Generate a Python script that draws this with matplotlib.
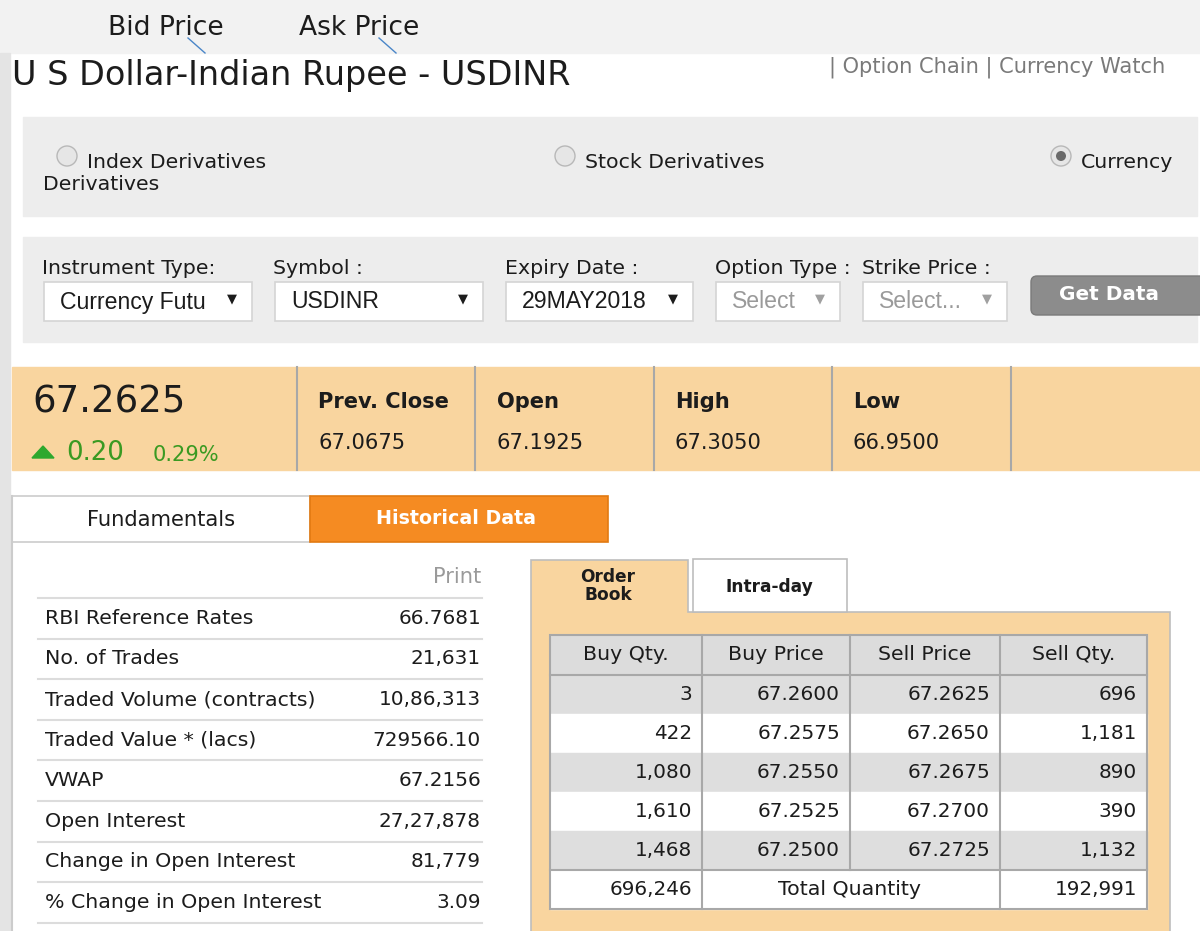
import matplotlib
matplotlib.use('Agg')
import matplotlib.pyplot as plt
from matplotlib.patches import Rectangle, Circle, FancyBboxPatch, Polygon

plt.rcParams['font.family'] = ['DejaVu Sans']

# ---- data ----
title = 'U S Dollar-Indian Rupee - USDINR'
callouts = ['Bid Price', 'Ask Price']
links = '| Option Chain | Currency Watch'
segments = ['Index Derivatives', 'Stock Derivatives', 'Currency']
filter_labels = ['Instrument Type:', 'Symbol :', 'Expiry Date :', 'Option Type :', 'Strike Price :']
filter_values = ['Currency Futu', 'USDINR', '29MAY2018', 'Select', 'Select...']
last_price = '67.2625'
change = '0.20'
pct_change = '0.29%'
quote_labels = ['Prev. Close', 'Open', 'High', 'Low']
quote_values = ['67.0675', '67.1925', '67.3050', '66.9500']
tabs = ['Fundamentals', 'Historical Data']
fund_labels = ['RBI Reference Rates', 'No. of Trades', 'Traded Volume (contracts)',
               'Traded Value * (lacs)', 'VWAP', 'Open Interest',
               'Change in Open Interest', '% Change in Open Interest']
fund_values = ['66.7681', '21,631', '10,86,313', '729566.10', '67.2156',
               '27,27,878', '81,779', '3.09']
book_tabs = ['Order\nBook', 'Intra-day']
book_cols = ['Buy Qty.', 'Buy Price', 'Sell Price', 'Sell Qty.']
buy_qty = ['3', '422', '1,080', '1,610', '1,468']
buy_price = ['67.2600', '67.2575', '67.2550', '67.2525', '67.2500']
sell_price = ['67.2625', '67.2650', '67.2675', '67.2700', '67.2725']
sell_qty = ['696', '1,181', '890', '390', '1,132']
total_buy = '696,246'
total_sell = '192,991'

# ---- colours ----
DARK = '#1c1c1c'
PANEL = '#ededed'
ORANGE_BG = '#f9d59f'
ORANGE = '#f58b22'
GREEN = '#3a9a22'
LINE = '#a8a8a8'


def pt(px):
    # pixel height -> points at dpi 100
    return px * 0.72


fig = plt.figure(figsize=(12, 9.31), dpi=100)
ax = fig.add_axes([0, 0, 1, 1])
ax.set_xlim(0, 1200)
ax.set_ylim(931, 0)
ax.axis('off')

# page background
ax.add_patch(Rectangle((0, 0), 1200, 53, color='#f2f2f2', zorder=0))
ax.add_patch(Rectangle((0, 53), 10, 878, color='#e4e4e4', zorder=0))

# callouts with leader lines
for i, txt in enumerate(callouts):
    x = [108, 299][i]
    ax.text(x, 28, txt, fontsize=pt(26.5), color=DARK, va='center', ha='left')
    ax.plot([x + 80, x + 97], [38, 53], color='#4a86c8', lw=1)

ax.text(12, 75, title, fontsize=pt(33.5), color=DARK, va='center', ha='left')
ax.text(1165, 67, links, fontsize=pt(21), color='#7a7a7a', va='center', ha='right')

# segment selector
ax.add_patch(Rectangle((23, 117), 1174, 99, color=PANEL))
for i, seg in enumerate(segments):
    cx = [67, 565, 1061][i]
    ax.add_patch(Circle((cx, 156), 10, facecolor='#e6e6e6', edgecolor='#b8b8b8', lw=1))
    if seg == 'Currency':
        ax.add_patch(Circle((cx, 156), 5, facecolor='#6a6a6a', edgecolor='none'))
    ax.text(cx + 20, 162, seg, fontsize=pt(20.5), color=DARK, va='center', ha='left')
ax.text(43, 185, 'Derivatives', fontsize=pt(20.5), color=DARK, va='center', ha='left')

# filter bar
ax.add_patch(Rectangle((23, 237), 1174, 105, color=PANEL))
label_x = [42, 273, 505, 715, 862]
boxes = [(44, 252), (275, 483), (506, 693), (716, 840), (863, 1007)]
for i, lab in enumerate(filter_labels):
    ax.text(label_x[i], 268, lab, fontsize=pt(20.5), color=DARK, va='center', ha='left')
    x0, x1 = boxes[i]
    ax.add_patch(Rectangle((x0, 282), x1 - x0, 39, facecolor='white', edgecolor='#d4d4d4', lw=1.2))
    grey = filter_values[i].startswith('Select')
    ax.text(x0 + 16, 302, filter_values[i], fontsize=pt(23), family='Liberation Sans',
            color='#9a9a9a' if grey else DARK, va='center', ha='left')
    ax.text(x1 - 20, 299, '\u25bc', fontsize=pt(13), color='#a0a0a0' if grey else DARK,
            va='center', ha='center')
ax.add_patch(FancyBboxPatch((1031, 276), 175, 39, boxstyle='round,pad=0,rounding_size=6',
                            facecolor='#8c8c8c', edgecolor='#7a7a7a', lw=1))
ax.text(1109, 294, 'Get Data', fontsize=pt(20), fontweight='bold', color='white',
        va='center', ha='center')

# quote band
ax.add_patch(Rectangle((12, 367), 1188, 103, color=ORANGE_BG))
for x in [297, 475, 654, 832, 1011]:
    ax.plot([x, x], [367, 470], color=LINE, lw=1.5)
ax.text(32, 402, last_price, fontsize=pt(37), color=DARK, va='center', ha='left')
ax.add_patch(Polygon([(32, 458), (54, 458), (43, 446)], color='#2ea82e'))
ax.text(66, 453, change, fontsize=pt(26), color=GREEN, va='center', ha='left')
ax.text(153, 455, pct_change, fontsize=pt(21), color=GREEN, va='center', ha='left')
for i, lab in enumerate(quote_labels):
    x = [318, 497, 675, 853][i]
    ax.text(x, 402, lab, fontsize=pt(21), fontweight='bold', color=DARK, va='center', ha='left')
    ax.text(x, 443, quote_values[i], fontsize=pt(21), color=DARK, va='center', ha='left')

# tabs
ax.plot([12, 12], [496, 931], color='#cccccc', lw=1.5)
ax.add_patch(Rectangle((12, 496), 298, 46, facecolor='white', edgecolor='#cccccc', lw=1.2))
ax.text(161, 520, tabs[0], fontsize=pt(21), color=DARK, va='center', ha='center')
ax.add_patch(Rectangle((310, 496), 298, 46, facecolor=ORANGE, edgecolor='#e27a12', lw=1.2))
ax.text(456, 518, tabs[1], fontsize=pt(19), fontweight='bold', color='white',
        va='center', ha='center')

# fundamentals list
ax.text(481, 577, 'Print', fontsize=pt(21), color='#9a9a9a', va='center', ha='right')
row_top, row_h = 598, 40.6
for i in range(len(fund_labels) + 1):
    y = row_top + i * row_h
    ax.plot([38, 482], [y, y], color='#dcdcdc', lw=1.5)
for i, lab in enumerate(fund_labels):
    y = row_top + (i + 0.5) * row_h
    ax.text(45, y, lab, fontsize=pt(20.5), color=DARK, va='center', ha='left')
    ax.text(481, y, fund_values[i], fontsize=pt(20), color=DARK, va='center', ha='right')

# order book panel
ax.add_patch(Polygon([(531, 940), (531, 560), (688, 560), (688, 612), (1170, 612), (1170, 940)],
                     facecolor=ORANGE_BG, edgecolor='#bdbdbd', lw=1.2))
ax.add_patch(Rectangle((693, 559), 154, 53, facecolor='white', edgecolor='#bdbdbd', lw=1.2))
ax.text(608, 586, book_tabs[0], fontsize=pt(17), fontweight='bold', color=DARK,
        va='center', ha='center', linespacing=0.95)
ax.text(769, 587, book_tabs[1], fontsize=pt(17), fontweight='bold', color=DARK,
        va='center', ha='center')

col_edges = [550, 702, 850, 1000, 1147]
head_top, head_bot = 635, 675
rh = 39
columns = [buy_qty, buy_price, sell_price, sell_qty]
n = len(buy_qty)

ax.add_patch(Rectangle((550, head_top), 597, head_bot - head_top, color='#dcdcdc'))
for r in range(n + 1):
    y0 = head_bot + r * rh
    fc = '#dedede' if (r % 2 == 0 and r < n) else 'white'
    ax.add_patch(Rectangle((550, y0), 597, rh, color=fc))
for j, name in enumerate(book_cols):
    cx = (col_edges[j] + col_edges[j + 1]) / 2
    ax.text(cx, 655, name, fontsize=pt(20.5), color=DARK, va='center', ha='center')
for r in range(n):
    yc = head_bot + (r + 0.5) * rh
    for j, col in enumerate(columns):
        ax.text(col_edges[j + 1] - 10, yc, col[r], fontsize=pt(20), color=DARK,
                va='center', ha='right')
yt = head_bot + (n + 0.5) * rh
ax.text(col_edges[1] - 10, yt, total_buy, fontsize=pt(20), color=DARK, va='center', ha='right')
ax.text(col_edges[2], yt, 'Total Quantity', fontsize=pt(20.5), color=DARK, va='center', ha='center')
ax.text(col_edges[4] - 10, yt, total_sell, fontsize=pt(20), color=DARK, va='center', ha='right')

table_bot = head_bot + (n + 1) * rh
ax.add_patch(Rectangle((550, head_top), 597, table_bot - head_top, fill=False,
                       edgecolor=LINE, lw=1.5))
ax.plot([550, 1147], [head_bot, head_bot], color=LINE, lw=1.5)
ax.plot([550, 1147], [head_bot + n * rh] * 2, color=LINE, lw=1.5)
for x in [702, 1000]:
    ax.plot([x, x], [head_top, table_bot], color=LINE, lw=1.5)
ax.plot([850, 850], [head_top, head_bot + n * rh], color=LINE, lw=1.5)

fig.savefig('out.png', dpi=100)
